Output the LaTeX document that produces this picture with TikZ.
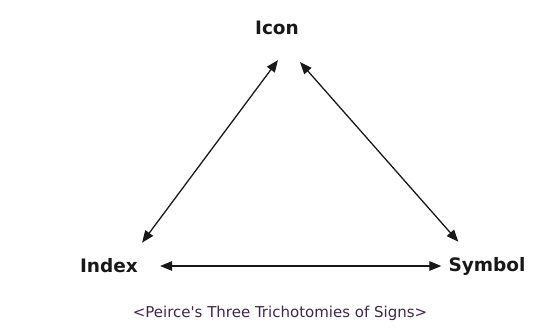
\documentclass[tikz,border=0pt]{standalone}
\usepackage{fontspec}
\setmainfont{DejaVu Sans}
\usepackage{tikz}
\usetikzlibrary{arrows.meta,positioning}
\definecolor{ink}{RGB}{25,25,25}
\definecolor{plum}{RGB}{60,40,78}

\begin{document}
\begin{tikzpicture}[x=1pt,y=-1pt,
    sign/.style={font=\fontsize{18.5}{19}\selectfont\bfseries,text=ink,inner sep=0pt},
    link/.style={ink,line width=1.3pt,
      {Triangle[length=12pt,width=9.5pt]}-{Triangle[length=12pt,width=9.5pt]}}]
        \useasboundingbox (0,0) rectangle (540,331);
        \node[sign] (icon) at (277,28) {Icon};
        \node[sign] (index) at (109,266) {Index};
        \node[sign] (symbol) at (487,266) {Symbol};
        \node[font=\fontsize{15}{15}\selectfont,text=plum,inner sep=0pt] (caption) at (280,313) {<Peirce\textquotesingle s Three Trichotomies of Signs>};
        \draw[link] ([shift={(1pt,-25pt)}]icon.south) -- ([shift={(4pt,16pt)}]index.north east);
        \draw[link] ([shift={(23pt,-27pt)}]icon.south) -- ([shift={(10pt,15pt)}]symbol.north west);
        \draw[link] ([xshift=22pt]index.east) -- ([xshift=-7pt]symbol.west);
      \end{tikzpicture}
\end{document}
